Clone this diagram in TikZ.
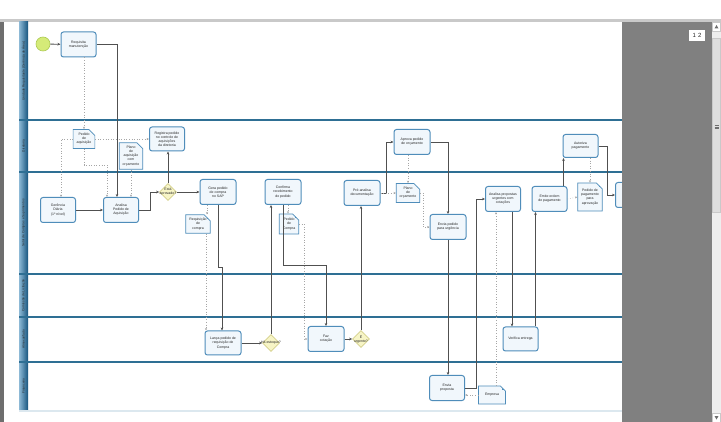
\documentclass[tikz,border=0pt]{standalone}
\usepackage{fontspec}
\setmainfont{Liberation Sans}
\usetikzlibrary{arrows.meta,positioning,calc,shapes.geometric,shapes.misc}
\definecolor{Ink}{HTML}{262626}
\definecolor{LaneLine}{HTML}{2E6F94}
\definecolor{HeadLight}{HTML}{8DB9D6}
\definecolor{HeadDark}{HTML}{17557E}
\definecolor{TaskLine}{HTML}{4F8DBA}
\definecolor{TaskFill}{HTML}{F1F7FC}
\definecolor{GateFill}{HTML}{F7F5C6}
\definecolor{GateLine}{HTML}{D4D08A}
\definecolor{StartFill}{HTML}{D5EB78}
\definecolor{StartLine}{HTML}{AECB55}
\definecolor{FlowLine}{HTML}{505050}
\definecolor{AssocLine}{HTML}{A6A6A6}
\definecolor{Pane}{HTML}{808080}
\definecolor{Frame}{HTML}{C9C9C9}
\definecolor{Strip}{HTML}{6E6E6E}
\definecolor{ScrollBg}{HTML}{EEEEEE}
\definecolor{ScrollThumb}{HTML}{DEDEDE}
\definecolor{PoolEdge}{HTML}{DCE8EF}
\newcommand{\bpmnfont}{\fontsize{3.5}{4.1}\selectfont}
\newcommand{\lanefont}{\fontsize{3.2}{3.8}\selectfont}
\tikzset{
  task/.style={rectangle,rounded corners=2.5pt,draw=TaskLine,fill=TaskFill,line width=1pt,
    minimum width=35pt,minimum height=25pt,inner sep=1pt,align=center,font=\bpmnfont,text=Ink},
  dataobj/.style={chamfered rectangle,chamfered rectangle corners=north east,
    chamfered rectangle xsep=3pt,chamfered rectangle ysep=3pt,draw=TaskLine,fill=TaskFill,
    line width=0.7pt,inner sep=0.5pt,align=center,font=\bpmnfont,text=Ink,
    path picture={\draw[TaskLine,line width=0.5pt]
      ([xshift=-3pt]path picture bounding box.north east) --
      ([xshift=-3pt,yshift=-3pt]path picture bounding box.north east) --
      ([yshift=-3pt]path picture bounding box.north east);}},
  gate/.style={diamond,draw=GateLine,fill=GateFill,line width=0.7pt,minimum width=17pt,
    minimum height=17pt,inner sep=0pt},
  gatetext/.style={font=\bpmnfont,text=Ink,align=center,inner sep=0pt},
  startevt/.style={circle,draw=StartLine,fill=StartFill,line width=0.6pt,minimum size=14pt,inner sep=0pt},
  flow/.style={draw=FlowLine,line width=0.8pt,-{Stealth[length=3pt,width=2.6pt]}},
  assoc/.style={draw=AssocLine,line width=0.6pt,dotted,-{Stealth[length=2.4pt,width=2pt]}},
  laneline/.style={LaneLine,line width=1.1pt},
  lanehead/.style={left color=HeadLight,right color=HeadDark},
  lanelabel/.style={rotate=90,font=\lanefont,text=Ink,inner sep=0pt}
}
\begin{document}
\begin{tikzpicture}[x=1pt,y=-1pt]
\useasboundingbox (0,0) rectangle (721,422);
\fill[white] (0,0) rectangle (721,422);
\fill[Frame] (0,19.5) rectangle (721,22);
\fill[Strip] (0,22) rectangle (4,422);
% lane headers
\shade[lanehead] (19,22) rectangle (28,120);
\shade[lanehead] (19,120) rectangle (28,172);
\shade[lanehead] (19,172) rectangle (28,274);
\shade[lanehead] (19,274) rectangle (28,317);
\shade[lanehead] (19,317) rectangle (28,362);
\shade[lanehead] (19,362) rectangle (28,410);
\node[lanelabel] (h1) at (23.5,71) {Unidade Requisitante (Gerência de Área)};
\node[lanelabel] (h2) at (23.5,146) {Diretoria};
\node[lanelabel] (h3) at (23.5,223) {Setor de Compras e Suprimentos};
\node[lanelabel] (h4) at (23.5,295.5) {Comissão de Licitação};
\node[lanelabel] (h5) at (23.5,339.5) {Almoxarifado};
\node[lanelabel] (h6) at (23.5,386) {Financeiro};
% lane lines
\draw[laneline] (19,120) -- (622,120);
\draw[laneline] (19,172) -- (622,172);
\draw[laneline] (19,274) -- (622,274);
\draw[laneline] (19,317) -- (622,317);
\draw[laneline] (19,362) -- (622,362);
\fill[PoolEdge] (19,409.5) rectangle (622,412);
% lane 1 and 2
\node[startevt] (start) at (43,44) {};
\node[task] (t1) at (78.5,44.5) {Requisita\\manutenção};
\node[dataobj,minimum width=19pt,minimum height=19pt] (d1) at (84,139) {Pedido\\de\\aquisição};
\node[dataobj,minimum width=21pt,minimum height=26pt] (d2) at (131,156) {Plano\\de\\aquisição\\com\\orçamento};
\node[task,minimum height=24pt] (t3) at (167,139) {Registra pedido\\no controle de\\aquisições\\da diretoria};
% lane 3
\node[task] (t4) at (58,210) {Gerência\\Diária\\(1º nível)};
\node[task] (t5) at (121,210) {Analisa\\Pedido de\\Aquisição};
\node[gate,label={[gatetext]center:Está\\aprovado?}] (g1) at (168,192) {};
\node[task,minimum width=36pt] (t6) at (218,192) {Gera pedido\\de compra\\no SAP};
\node[dataobj,minimum width=22pt,minimum height=18pt] (d3) at (198,224) {Requisição\\de\\compra};
\node[task,minimum width=36pt] (t8) at (283,192) {Confirma\\recebimento\\do pedido};
\node[dataobj,minimum width=19pt,minimum height=20pt] (d4) at (289,224) {Pedido\\de\\Compra};
\node[task,minimum width=36pt] (t10) at (362,193) {Pré-analisa\\documentação};
\node[task,minimum width=36pt] (t11) at (412,142) {Aprova pedido\\de orçamento};
\node[dataobj,minimum width=22pt,minimum height=19pt] (d5) at (408,193) {Plano\\de\\orçamento};
\node[task,minimum width=36pt] (t12) at (448,227) {Envia pedido\\para urgência};
\node[task] (t14) at (503,199) {Analisa propostas\\urgentes com\\cotações};
\node[task] (t16) at (549.5,199) {Emite ordem\\de pagamento};
\node[dataobj,minimum width=21pt,minimum height=28pt] (d7) at (590,197) {Pedido de\\pagamento\\para\\aprovação};
\node[task,minimum height=23pt] (t17) at (580.5,146) {Autoriza\\pagamento};
\node[task] (t18) at (633,195) {};
% lane 5 and 6
\node[task,minimum width=36pt,minimum height=24pt] (t7) at (223,343) {Lança pedido de\\requisição de\\Compra};
\node[gate,label={[gatetext]center:Há estoque?}] (g2) at (271,343) {};
\node[task,minimum width=36pt] (t9) at (326,339) {Faz\\cotação};
\node[gate,label={[gatetext]center:É\\urgente?}] (g3) at (361,339) {};
\node[task,minimum height=24pt] (t15) at (520.5,339) {Verifica entrega};
\node[task] (t13) at (447,388) {Envia\\proposta};
\node[dataobj,minimum width=27pt,minimum height=18pt] (d6) at (492,395) {Empresa};
% sequence flows
\coordinate (k1) at (107,165);
\coordinate (k2) at (222,267);
\coordinate (k3) at (326,265);
\draw[flow] (start) -- (t1);
\draw[flow] (t1.east) -| ([xshift=-4pt]t5.north);
\draw[flow] (t4) -- (t5);
\draw[flow] (t5.east) -- ++(11,0) |- (g1.west);
\draw[flow] (g1.north) -- (g1.north |- t3.south);
\draw[flow] (g1.east) -- (t6.west);
\draw[flow] (t6.south) |- (k2) -- (k2 |- t7.north);
\draw[flow] (t7.east) -- (g2.west);
\draw[flow] (g2.north) -- (g2.north |- t8.south);
\draw[flow] (t8.south) |- (k3) -- (t9.north);
\draw[flow] (t9.east) -- (g3.west);
\draw[flow] (g3.north) -- (g3.north |- t10.south);
\draw[flow] (t10.east) -- ++(6,0) |- (t11.west);
\draw[flow] (t11.east) -| (t12.north);
\draw[flow] (t12.south) -- (t12.south |- t13.north);
\draw[flow] (t13.east) -- ++(11,0) |- (t14.west);
\draw[flow] ([xshift=9pt]t14.south) -- ([xshift=9pt]t14.south |- t15.north);
\draw[flow] ([xshift=15pt]t15.north) -- ([xshift=15pt]t15.north |- t16.south);
\draw[flow] ([xshift=14pt]t16.north) -- ([xshift=14pt]t16.north |- t17.south);
\draw[flow] (t17.east) -- ++(9,0) |- (t18.west);
% data associations
\draw[assoc] (d1.north |- t1.south) -- (d1.north);
\draw[assoc] (d1.east) -- (t3.west);
\draw[assoc] (d1.west) -| ([xshift=3pt]t4.north);
\draw[assoc] (d1.south) |- (k1) -- (k1 |- t5.north);
\draw[assoc] (d2.south) -- (d2.south |- t5.north);
\draw[assoc] ([xshift=-11pt]t6.south) -- ([xshift=-11pt]t6.south |- d3.north);
\draw[assoc] ([xshift=8pt]d3.south) -- ([xshift=8pt]d3.south |- t7.north);
\draw[assoc] ([xshift=5pt]t8.south) -- ([xshift=5pt]t8.south |- d4.north);
\draw[assoc] (d4.east) -- ++(5,0) |- (t9.west);
\draw[assoc] (t10.east) -- (d5.west);
\draw[assoc] (t11.south -| d5.north) -- (d5.north);
\draw[assoc] (d5.east) -- ++(3,0) |- (t12.west);
\draw[assoc] (d6.west) -- (d6.west -| t13.east);
\draw[assoc] ([xshift=4pt]d6.north) -- ([xshift=4pt]d6.north |- t14.south);
\draw[assoc] (t16.east) -- (d7.west);
\draw[assoc] (d7.north |- t17.south) -- (d7.north);
% viewer pane and scrollbar
\fill[Pane] (622,22) rectangle (712,422);
\fill[ScrollBg] (712,22) rectangle (721,422);
\draw[Frame,line width=0.5pt,fill=white] (712.5,22.5) rectangle (720.5,31);
\fill[Strip] (714.5,28.5) -- (718.5,28.5) -- (716.5,25) -- cycle;
\draw[Frame,line width=0.5pt,fill=ScrollThumb] (712.5,38) rectangle (720.5,212);
\draw[Strip,line width=0.4pt] (714.5,125.5) -- (718.5,125.5) (714.5,127) -- (718.5,127) (714.5,128.5) -- (718.5,128.5);
\draw[Frame,line width=0.5pt,fill=white] (712.5,413) rectangle (720.5,422);
\fill[Strip] (714.5,416) -- (718.5,416) -- (716.5,419.5) -- cycle;
\node[fill=white,font=\fontsize{6}{7}\selectfont,text=Ink,minimum width=16pt,minimum height=11pt,inner sep=0pt] (pages) at (697,35.5) {1\,\,2};
\end{tikzpicture}
\end{document}
